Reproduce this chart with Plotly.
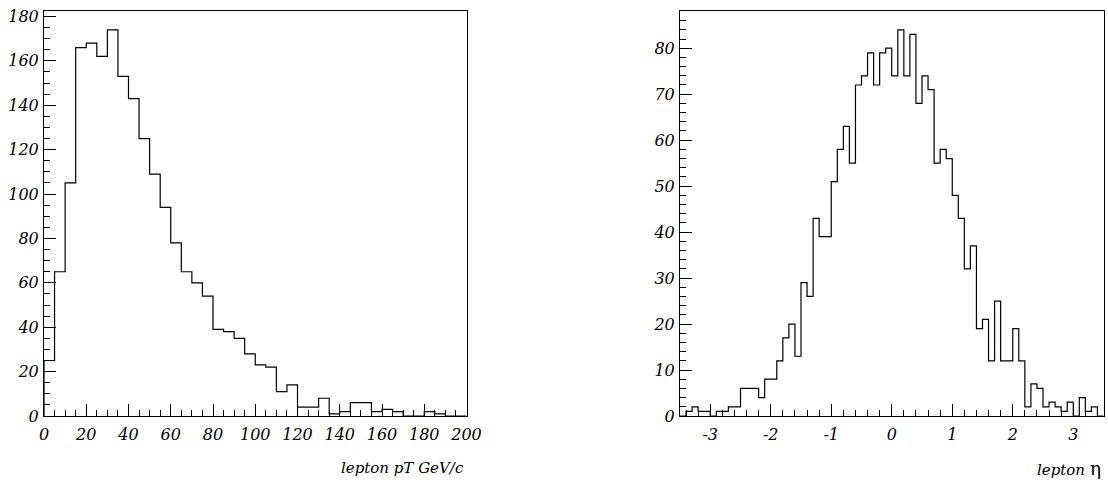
import numpy as np
import plotly.graph_objects as go

# ---------------- data ----------------
pt_range = [0, 200]
pt_counts = [25, 65, 105, 166, 168, 162, 174, 153, 143, 125,
             109, 94, 78, 65, 60, 54, 39, 38, 35, 28,
             23, 22, 11, 14, 4, 4, 8, 1, 2, 6,
             6, 2, 3, 2, 0, 0, 2, 1, 0, 0]

eta_range = [-3.5, 3.5]
eta_counts = [0, 1, 2, 1, 1, 0, 1, 1, 2, 2,
              6, 6, 6, 4, 8, 8, 12, 17, 20, 13,
              29, 26, 43, 39, 39, 51, 58, 63, 55, 72,
              74, 79, 72, 79, 80, 74, 84, 74, 83, 68,
              74, 71, 55, 58, 56, 48, 43, 32, 37, 19,
              21, 12, 25, 12, 12, 19, 12, 2, 7, 6,
              2, 3, 2, 1, 3, 0, 4, 1, 2, 0]

pt_xticks = [0, 20, 40, 60, 80, 100, 120, 140, 160, 180, 200]
pt_yticks = [0, 20, 40, 60, 80, 100, 120, 140, 160, 180]
eta_xticks = [-3, -2, -1, 0, 1, 2, 3]
eta_yticks = [0, 10, 20, 30, 40, 50, 60, 70, 80]

pt_title = "<i>lepton pT GeV/c</i>"
eta_title = "<i>lepton</i> <span style='font-style:normal;font-size:19px'>η</span>"


def step_xy(counts, lo, hi):
    edges = np.linspace(lo, hi, len(counts) + 1)
    x = np.concatenate([[edges[0]], edges])
    y = np.concatenate([[0], counts, [counts[-1]]])
    return x, y


W, H = 1108, 493
FAM = "DejaVu Serif"

fig = go.Figure()
x1, y1 = step_xy(pt_counts, *pt_range)
fig.add_trace(go.Scatter(x=x1, y=y1, mode="lines",
                         line=dict(color="black", width=1.2, shape="hv"),
                         xaxis="x", yaxis="y", hoverinfo="skip"))
x2, y2 = step_xy(eta_counts, *eta_range)
fig.add_trace(go.Scatter(x=x2, y=y2, mode="lines",
                         line=dict(color="black", width=1.2, shape="hv"),
                         xaxis="x2", yaxis="y2", hoverinfo="skip"))

tickfont = dict(family=FAM, size=16, color="black", style="italic")
common = dict(showline=True, linecolor="black", linewidth=1, mirror=True,
              ticks="inside", ticklen=12, tickwidth=1, tickcolor="black",
              showgrid=False, zeroline=False, tickfont=tickfont,
              automargin=False)

ydom = [(H - 416) / H, (H - 10.5) / H]

fig.update_layout(
    width=W, height=H,
    margin=dict(l=0, r=0, t=0, b=0),
    plot_bgcolor="white", paper_bgcolor="white",
    showlegend=False,
    xaxis=dict(domain=[44 / W, 466.5 / W], range=pt_range, anchor="y",
               tickvals=pt_xticks, ticktext=["<i>%s</i>" % v for v in pt_xticks],
               minor=dict(dtick=5, ticklen=6, ticks="inside", tickcolor="black", tickwidth=1),
               ticklabelstandoff=4, **common),
    yaxis=dict(domain=ydom, range=[0, 1.05 * max(pt_counts)], anchor="x",
               tickvals=pt_yticks, ticktext=["<i>%s</i>" % v for v in pt_yticks],
               minor=dict(dtick=5, ticklen=6, ticks="inside", tickcolor="black", tickwidth=1),
               ticklabelstandoff=1, **common),
    xaxis2=dict(domain=[680 / W, 1103.5 / W], range=eta_range, anchor="y2",
                tickvals=eta_xticks, ticktext=["<i>%s</i>" % v for v in eta_xticks],
                minor=dict(dtick=0.2, tick0=0, ticklen=6, ticks="inside", tickcolor="black", tickwidth=1),
                ticklabelstandoff=4, **common),
    yaxis2=dict(domain=ydom, range=[0, 1.05 * max(eta_counts)], anchor="x2",
                tickvals=eta_yticks, ticktext=["<i>%s</i>" % v for v in eta_yticks],
                minor=dict(dtick=2, ticklen=6, ticks="inside", tickcolor="black", tickwidth=1),
                ticklabelstandoff=1, **common),
    annotations=[
        dict(text=pt_title, xref="paper", yref="paper", x=466 / W, y=1 - 468 / H,
             xanchor="right", yanchor="middle", showarrow=False,
             font=dict(family=FAM, size=15, color="black")),
        dict(text=eta_title, xref="paper", yref="paper", x=1103 / W, y=1 - 468 / H,
             xanchor="right", yanchor="middle", showarrow=False,
             font=dict(family=FAM, size=15, color="black")),
    ],
)

fig.write_html("out.html")
